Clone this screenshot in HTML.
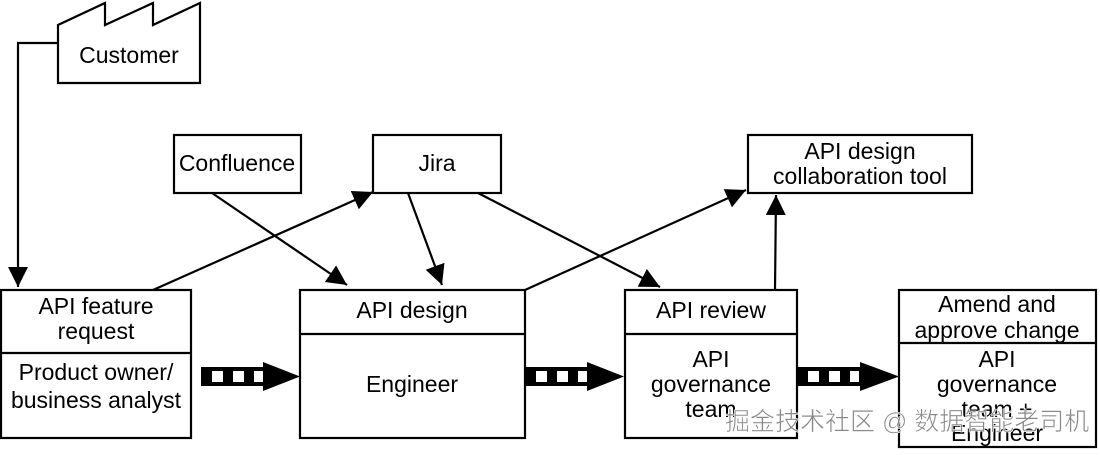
<!DOCTYPE html>
<html><head><meta charset="utf-8"><style>
body{margin:0;background:#fff;}
svg text{font-family:"Liberation Sans",Arial,sans-serif;font-size:23px;fill:#000;}
.wm{font-family:"Liberation Sans","Noto Sans CJK SC",sans-serif;font-size:25px;fill:#888;stroke:#fff;stroke-width:0.6px;}
</style></head><body>
<svg width="1100" height="450" viewBox="0 0 1100 450" xmlns="http://www.w3.org/2000/svg">
<defs>
<marker id="b" markerWidth="20" markerHeight="20" refX="20" refY="10" orient="auto" markerUnits="userSpaceOnUse" viewBox="0 0 20 20">
<path d="M0,0 L20,10 L0,20 z" fill="#000"/></marker>
</defs>
<g fill="none" stroke="#000" stroke-width="2.2">
<path d="M58,83 L58,25 L105,3 L105,25 L153,3 L153,25 L200,3 L200,83 Z" fill="#fff"/>
<rect x="1" y="290" width="190" height="148"/><line x1="1" y1="353" x2="191" y2="353"/>
<rect x="300" y="290" width="225" height="148"/><line x1="300" y1="334" x2="525" y2="334"/>
<rect x="625" y="290" width="172" height="148"/><line x1="625" y1="334" x2="797" y2="334"/>
<rect x="899" y="290" width="197" height="157"/><line x1="899" y1="343" x2="1096" y2="343"/>
<rect x="174" y="135" width="127" height="58"/>
<rect x="373" y="135" width="128" height="58"/>
<rect x="748" y="135" width="224" height="58"/>
</g>
<g stroke="#000" stroke-width="2.2" fill="none">
<path d="M58,43 L18,43 L18,287" marker-end="url(#b)"/>
<line x1="153" y1="290" x2="373" y2="192" marker-end="url(#b)"/>
<line x1="212" y1="193" x2="347" y2="285" marker-end="url(#b)"/>
<line x1="408" y1="193" x2="442" y2="285" marker-end="url(#b)"/>
<line x1="478" y1="193" x2="660" y2="287" marker-end="url(#b)"/>
<line x1="525" y1="290" x2="746" y2="190" marker-end="url(#b)"/>
<line x1="775" y1="290" x2="776" y2="195" marker-end="url(#b)"/>
</g>
<g>
<g transform="translate(201,0)">
<rect x="0" y="367" width="62" height="19" fill="#000"/>
<rect x="11" y="371" width="11" height="11" fill="#fff"/><rect x="32" y="371" width="11" height="11" fill="#fff"/><rect x="53" y="371" width="9" height="11" fill="#fff"/>
<path d="M62,362 L99,376.5 L62,391 Z" fill="#000"/>
</g>
<g transform="translate(525,0)">
<rect x="0" y="367" width="62" height="19" fill="#000"/>
<rect x="11" y="371" width="11" height="11" fill="#fff"/><rect x="32" y="371" width="11" height="11" fill="#fff"/><rect x="53" y="371" width="9" height="11" fill="#fff"/>
<path d="M62,362 L99,376.5 L62,391 Z" fill="#000"/>
</g>
<g transform="translate(797,0)">
<rect x="0" y="367" width="64" height="19" fill="#000"/>
<rect x="11" y="371" width="11" height="11" fill="#fff"/><rect x="32" y="371" width="11" height="11" fill="#fff"/><rect x="53" y="371" width="9" height="11" fill="#fff"/>
<path d="M63,362 L102,376.5 L63,391 Z" fill="#000"/>
</g>
</g>
<g text-anchor="middle">
<text x="129" y="63">Customer</text>
<text x="237" y="171">Confluence</text>
<text x="437" y="171">Jira</text>
<text x="860" y="159">API design</text>
<text x="860" y="184">collaboration tool</text>
<text x="96" y="314">API feature</text>
<text x="96" y="339">request</text>
<text x="96" y="380">Product owner/</text>
<text x="96" y="408">business analyst</text>
<text x="412" y="318">API design</text>
<text x="412" y="392">Engineer</text>
<text x="711" y="318">API review</text>
<text x="711" y="367">API</text>
<text x="711" y="392">governance</text>
<text x="711" y="417">team</text>
<text x="997" y="312">Amend and</text>
<text x="997" y="338">approve change</text>
<text x="997" y="367">API</text>
<text x="997" y="392">governance</text>
<text x="997" y="417">team +</text>
<text x="997" y="441">Engineer</text>
</g>
<text class="wm" x="725" y="430">掘金技术社区 @ 数据智能老司机</text>
</svg>
</body></html>
